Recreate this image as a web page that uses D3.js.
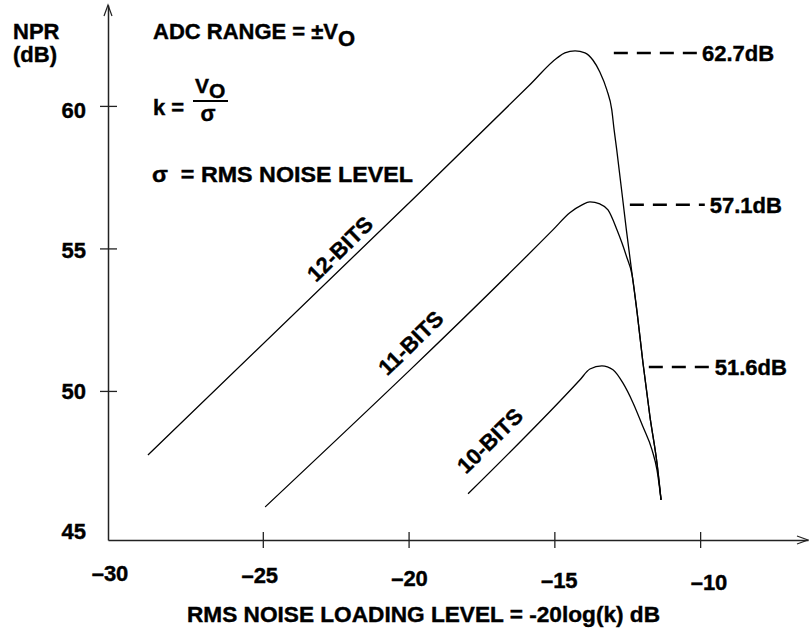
<!DOCTYPE html>
<html><head><meta charset="utf-8">
<script src="https://cdn.jsdelivr.net/npm/d3@7"></script>
<style>
html,body{margin:0;padding:0;background:#fff;}
svg text{font-family:"Liberation Sans",Arial,Helvetica,sans-serif;font-weight:bold;fill:#000;stroke:#000;stroke-width:0.4px;}
</style></head><body>
<svg id="chart" width="809" height="630"></svg>
<script>
// ---------- data ----------
const xTickValues = [-25, -20, -15, -10];
const xLabelValues = [-30, -25, -20, -15, -10];
const xLabelTexts = ["\u201330", "\u201325", "\u201320", "\u201315", "\u201310"];
const yTickValues = [50, 55, 60];
const yLabelValues = [45, 50, 55, 60];
const yLabelTexts = ["45", "50", "55", "60"];

const seriesNames = ["12-BITS", "11-BITS", "10-BITS"];
const bits12 = [[-28.94,47.75],[-19.88,56.70],[-15.84,60.74],[-14.91,61.68],[-14.64,61.86],[-14.29,61.93],[-13.95,61.86],[-13.68,61.61],[-13.44,61.19],[-13.20,60.56],[-13.03,59.86],[-12.95,59.16],[-12.86,58.46],[-12.53,55.65],[-12.34,54.14],[-12.16,52.74],[-11.96,50.98],[-11.72,49.09],[-11.48,47.47],[-11.34,46.18]];
const bits11 = [[-24.92,45.93],[-15.05,55.65],[-14.47,56.25],[-14.05,56.53],[-13.78,56.63],[-13.44,56.56],[-13.16,56.35],[-12.85,55.65],[-12.68,55.19],[-12.51,54.67],[-12.34,54.10],[-12.16,52.74],[-11.96,50.98],[-11.72,49.09],[-11.48,47.47],[-11.34,46.18]];
const bits10 = [[-17.96,46.39],[-14.12,50.39],[-13.78,50.77],[-13.37,50.88],[-12.99,50.74],[-12.65,50.28],[-12.30,49.58],[-11.96,48.74],[-11.65,47.93],[-11.48,47.23],[-11.34,46.18]];
const seriesLabelAt = [[-22.35,54.98],[-19.92,51.68],[-17.21,48.25]];

const peakTexts = ["62.7dB", "57.1dB", "51.6dB"];
const peakLevels = [61.86, 56.53, 50.84];
const peakDashFrom = [-12.96, -12.41, -11.76];
const peakDashTo = [-10.11, -9.84, -9.67];

// ---------- drawing ----------
const svg = d3.select("#chart");
const x = d3.scaleLinear().domain([-30.31, -6.30]).range([108, 808]);
const y = d3.scaleLinear().domain([44.77, 63.54]).range([540, 5]);
const xLab = d3.scaleLinear().domain([-30, -10]).range([110, 709]);
const xLabBase = d3.scaleLinear().domain([-30, -10]).range([581, 590]);
const yLabBase = d3.scaleLinear().domain([45, 60]).range([539, 118]);

const axisColor = "#222";

// x axis
const gx = svg.append("g").attr("transform", `translate(0,${y(y.domain()[0])})`)
  .call(d3.axisBottom(x).tickValues(xTickValues).tickSize(8).tickSizeOuter(0).tickFormat(""));
gx.select(".domain").attr("stroke", axisColor).attr("stroke-width", 1.5);
gx.selectAll(".tick line").attr("y1", -8).attr("y2", 8).attr("stroke", axisColor).attr("stroke-width", 1.3);

// y axis
const gy = svg.append("g").attr("transform", `translate(${x(x.domain()[0])},0)`)
  .call(d3.axisLeft(y).tickValues(yTickValues).tickSize(8).tickSizeOuter(0).tickFormat(""));
gy.select(".domain").attr("stroke", axisColor).attr("stroke-width", 1.5);
gy.selectAll(".tick line").attr("x1", -8).attr("x2", 9).attr("stroke", axisColor).attr("stroke-width", 1.3);

// arrowheads
const x0 = x(x.domain()[0]), x1 = x(x.domain()[1]);
const y0 = y(y.domain()[0]), y1 = y(y.domain()[1]);
svg.append("path").attr("d", `M${x0-4},${y1+11} L${x0},${y1} L${x0+4},${y1+11}`)
  .attr("fill", "none").attr("stroke", axisColor).attr("stroke-width", 1.2);
svg.append("path").attr("d", `M${x1-11},${y0-4} L${x1},${y0} L${x1-11},${y0+4}`)
  .attr("fill", "none").attr("stroke", axisColor).attr("stroke-width", 1.2);

// tick labels
svg.append("g").selectAll("text").data(xLabelValues).join("text")
  .attr("x", d => xLab(d)).attr("y", d => xLabBase(d))
  .attr("text-anchor", "middle").attr("font-size", 22)
  .text((d, i) => xLabelTexts[i]);
svg.append("g").selectAll("text").data(yLabelValues).join("text")
  .attr("x", 86).attr("y", d => yLabBase(d))
  .attr("text-anchor", "end").attr("font-size", 22)
  .text((d, i) => yLabelTexts[i]);

// axis titles
svg.append("text").attr("x", 13).attr("y", 39).attr("font-size", 22).text("NPR");
svg.append("text").attr("x", 13).attr("y", 62).attr("font-size", 22).text("(dB)");
svg.append("text").attr("x", 187).attr("y", 622)
  .attr("font-size", 22).attr("textLength", 473).attr("lengthAdjust", "spacingAndGlyphs")
  .text("RMS NOISE LOADING LEVEL = -20log(k) dB");

// series lines
const line = d3.line().x(d => x(d[0])).y(d => y(d[1])).curve(d3.curveMonotoneX);
[bits12, bits11, bits10].forEach(s => {
  svg.append("path").datum(s).attr("d", line)
    .attr("fill", "none").attr("stroke", "#000").attr("stroke-width", 1.3);
});

// series labels, rotated along the 1 dB/dB slope
const ang = -Math.atan2(y(50) - y(51), x(1) - x(0)) * 180 / Math.PI;
seriesNames.forEach((n, i) => {
  const px = x(seriesLabelAt[i][0]), py = y(seriesLabelAt[i][1]);
  svg.append("text").attr("transform", `translate(${px},${py}) rotate(${ang})`)
    .attr("text-anchor", "middle").attr("dominant-baseline", "central")
    .attr("font-size", 22).text(n);
});

// peak markers
peakTexts.forEach((t, i) => {
  const py = y(peakLevels[i]);
  svg.append("line").attr("x1", x(peakDashFrom[i])).attr("x2", x(peakDashTo[i]))
    .attr("y1", py).attr("y2", py).attr("stroke", "#000").attr("stroke-width", 2.5)
    .attr("stroke-dasharray", "14,9");
  svg.append("text").attr("x", x(peakDashTo[i]) + 5).attr("y", py + 8)
    .attr("font-size", 22).text(t);
});

// notes
const t1 = svg.append("text").attr("x", 153).attr("y", 39).attr("font-size", 22);
t1.append("tspan").text("ADC RANGE = \u00b1V");
t1.append("tspan").attr("dy", 7).text("O");

svg.append("text").attr("x", 153).attr("y", 115).attr("font-size", 22).text("k =");
const t2 = svg.append("text").attr("x", 195).attr("y", 93).attr("font-size", 21);
t2.append("tspan").text("V");
t2.append("tspan").attr("dy", 5).text("O");
svg.append("line").attr("x1", 193).attr("x2", 228).attr("y1", 101).attr("y2", 101)
  .attr("stroke", "#000").attr("stroke-width", 2);
svg.append("text").attr("x", 208).attr("y", 121).attr("text-anchor", "middle").attr("font-size", 22).text("\u03c3");

svg.append("text").attr("x", 152).attr("y", 182).attr("font-size", 22)
  .attr("xml:space", "preserve").attr("textLength", 261).attr("lengthAdjust", "spacingAndGlyphs")
  .text("\u03c3  = RMS NOISE LEVEL");
</script>
</body></html>
